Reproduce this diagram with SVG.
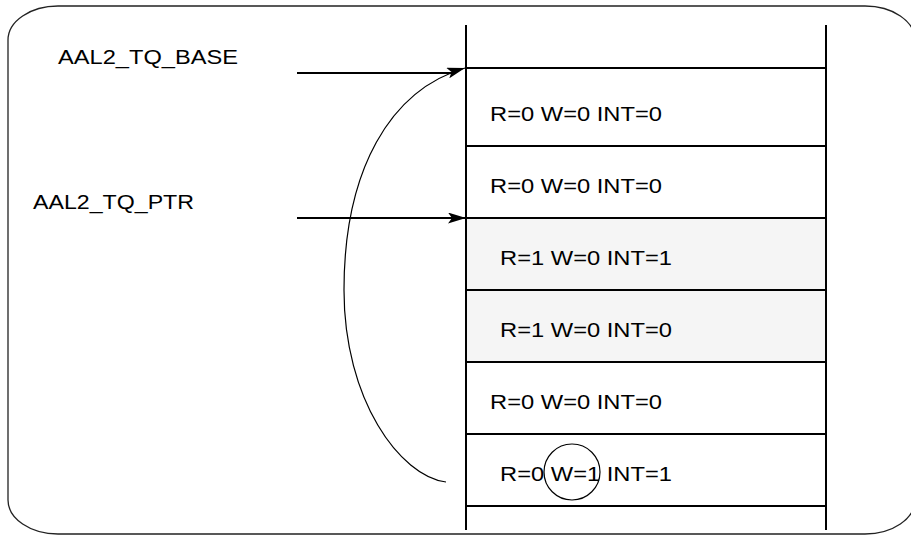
<svg xmlns="http://www.w3.org/2000/svg" width="911" height="535" viewBox="0 0 911 535">
<style>
.t{font-family:"Liberation Sans",Arial,sans-serif;font-size:20px;fill:#000}
.ln{stroke:#000;stroke-width:2;fill:none}
.thin{stroke:#000;stroke-width:1.2;fill:none}
</style>
<defs>
<marker id="ah" markerUnits="userSpaceOnUse" markerWidth="18" markerHeight="11" refX="18" refY="5.5" orient="auto">
<path d="M0,0 L18,5.5 L0,11 L4,5.5 Z" fill="#000"/>
</marker>
</defs>
<rect id="frame" x="8" y="6" width="907" height="528" rx="50" ry="34" fill="#fff" stroke="#222" stroke-width="1.3"/>
<g id="table">
<rect x="466" y="218" width="360" height="144" fill="#f5f5f5"/>
<line class="ln" x1="466" y1="25" x2="466" y2="530"/>
<line class="ln" x1="826" y1="25" x2="826" y2="530"/>
<line class="ln" x1="466" y1="68" x2="826" y2="68"/>
<line class="ln" x1="466" y1="146" x2="826" y2="146"/>
<line class="ln" x1="466" y1="218" x2="826" y2="218"/>
<line class="ln" x1="466" y1="290" x2="826" y2="290"/>
<line class="ln" x1="466" y1="362" x2="826" y2="362"/>
<line class="ln" x1="466" y1="434" x2="826" y2="434"/>
<line class="ln" x1="466" y1="506" x2="826" y2="506"/>
</g>
<g id="row1"><text class="t" x="490" y="121" textLength="172" lengthAdjust="spacingAndGlyphs">R=0 W=0 INT=0</text></g>
<g id="row2"><text class="t" x="490" y="193" textLength="172" lengthAdjust="spacingAndGlyphs">R=0 W=0 INT=0</text></g>
<g id="row3"><text class="t" x="500" y="265" textLength="172" lengthAdjust="spacingAndGlyphs">R=1 W=0 INT=1</text></g>
<g id="row4"><text class="t" x="500" y="337" textLength="172" lengthAdjust="spacingAndGlyphs">R=1 W=0 INT=0</text></g>
<g id="row5"><text class="t" x="490" y="409" textLength="172" lengthAdjust="spacingAndGlyphs">R=0 W=0 INT=0</text></g>
<g id="row6"><text class="t" x="500" y="481" textLength="172" lengthAdjust="spacingAndGlyphs">R=0 W=1 INT=1</text>
<circle class="thin" cx="572" cy="472" r="28"/></g>
<g id="base-label"><text class="t" x="58" y="64" textLength="180" lengthAdjust="spacingAndGlyphs">AAL2_TQ_BASE</text></g>
<g id="ptr-label"><text class="t" x="33" y="209" textLength="161" lengthAdjust="spacingAndGlyphs">AAL2_TQ_PTR</text></g>
<g id="connectors">
<line class="ln" x1="297" y1="73" x2="452" y2="73"/>
<line class="ln" x1="297" y1="218" x2="466" y2="218" marker-end="url(#ah)"/>
<path class="thin" d="M446,482 C400,476 344,400 344,290 C344,170 390,90 465,68" marker-end="url(#ah)"/>
</g>
</svg>
